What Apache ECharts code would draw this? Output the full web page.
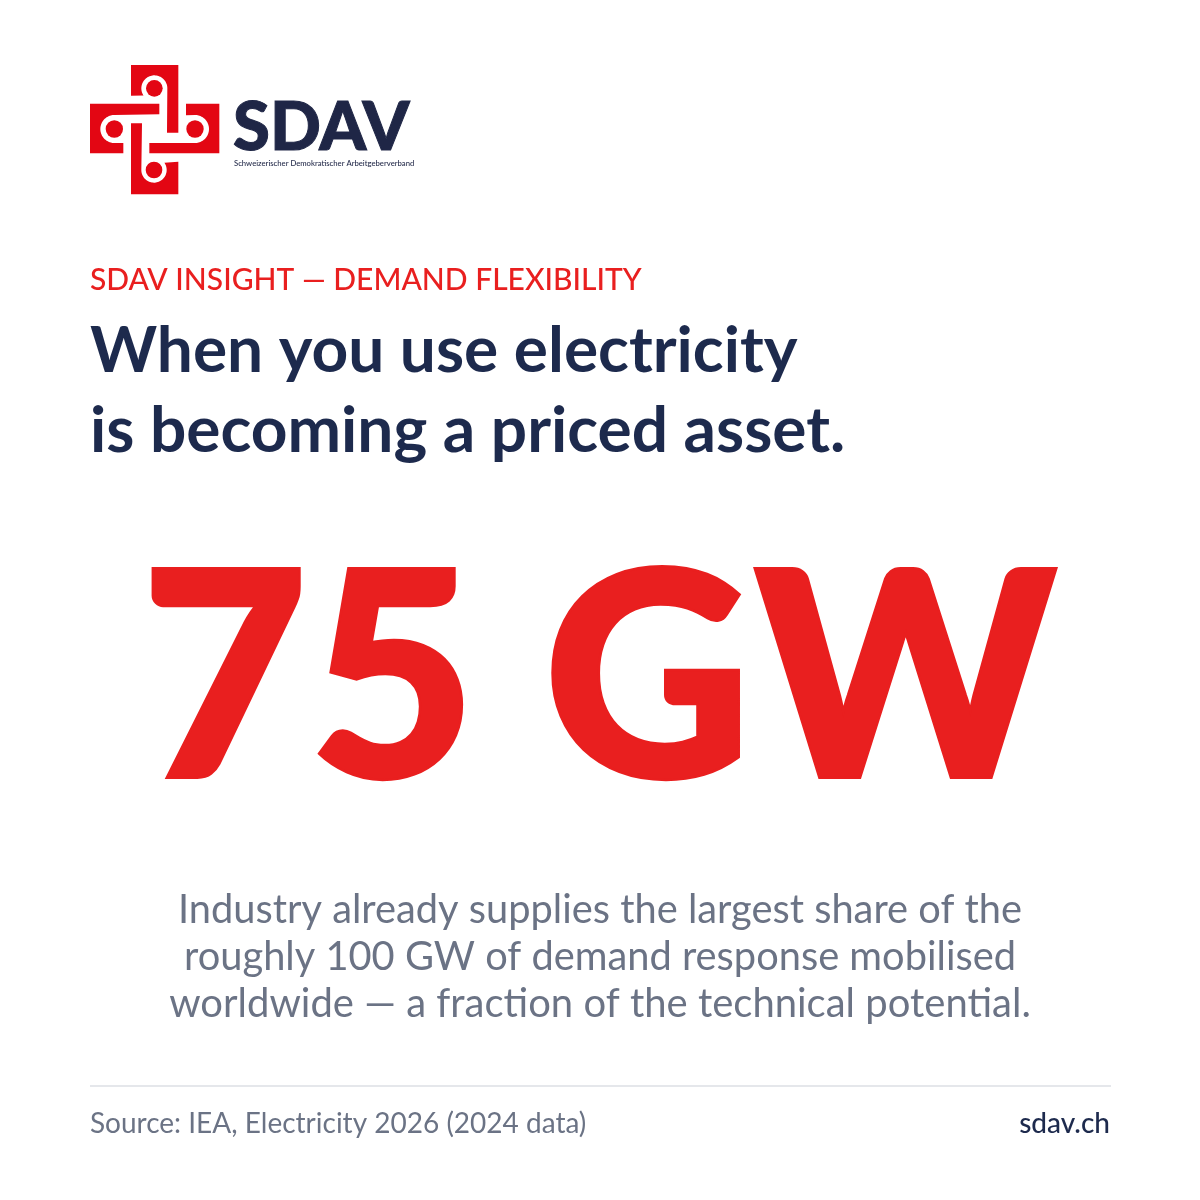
<!DOCTYPE html>
<html><head><meta charset="utf-8">
<style>html,body{margin:0;padding:0;background:#fff}#c{width:1200px;height:1200px}</style>
<script src="https://cdn.jsdelivr.net/npm/echarts@6/dist/echarts.min.js"></script>
</head><body><div id="c"></div>
<script>
const brandName = 'SDAV';
const brandLong = 'Schweizerischer Demokratischer Arbeitgeberverband';
const eyebrow = 'SDAV INSIGHT — DEMAND FLEXIBILITY';
const headline = ['When you use electricity', 'is becoming a priced asset.'];
const bigValue = 75;
const bigUnit = 'GW';
const bodyLines = ['Industry already supplies the largest share of the', 'roughly 100 GW of demand response mobilised', 'worldwide — a fraction of the technical potential.'];
const sourceText = 'Source: IEA, Electricity 2026 (2024 data)';
const siteText = 'sdav.ch';

const RED = '#e91f1f', NAVY = '#1d2a4d', BRAND = '#1f2646', GRAY = '#6b7385', LOGO = '#e30613';
const FF = 'Lato';
const chart = echarts.init(document.getElementById('c'), null, {renderer: 'canvas', width: 1200, height: 1200});

function txt(x, y, text, size, weight, fill, align, family, strokeW) {
  const style = {text, fontFamily: family || FF, fontSize: size, fontWeight: weight, fill, align: align || 'left', verticalAlign: 'middle'};
  if (strokeW) { style.stroke = fill; style.lineWidth = strokeW; style.lineJoin = 'miter'; }
  return {type: 'text', x, y, silent: true, style};
}
function arc(cx, cy, r, a0, a1) {
  const pts = [], n = 48;
  for (let i = 0; i <= n; i++) {
    const a = (a0 + (a1 - a0) * i / n) * Math.PI / 180;
    pts.push([cx + r * Math.cos(a), cy + r * Math.sin(a)]);
  }
  return pts;
}
const logoPieces = [
  [[153, 30], [295, 30], [295, 233], [261, 233], ...arc(223, 100, 39, 0, -214), [153, 122]],
  [[30, 146], [238, 146], [238, 178], ...arc(103, 222, 42, -90, -270), [130, 264], [130, 295], [30, 295]],
  [[318, 146], [318, 181], ...arc(345, 222, 42, -90, 90), [208, 264], [208, 295], [418, 295], [418, 146]],
  [[153, 205], [186, 205], ...arc(222, 345, 38, 180, -35), [295, 320], [295, 418], [153, 418]]
];
const logoDots = [[223, 100, 25], [103, 222, 26], [345, 222, 26], [222, 345, 25]];
const logo = {type: 'group', x: 80, y: 55, scaleX: 1 / 3, scaleY: 1 / 3, silent: true, children: [
  ...logoPieces.map(p => ({type: 'polygon', shape: {points: p}, style: {fill: LOGO}})),
  ...logoDots.map(d => ({type: 'circle', shape: {cx: d[0], cy: d[1], r: d[2]}, style: {fill: LOGO}}))
]};
const bigGlyphs = (bigValue + bigUnit).split('');
const bigCenters = [224.5, 392.5, 647.5, 905.5];

chart.setOption({
  animation: false,
  backgroundColor: '#fff',
  graphic: {elements: [
    logo,
    txt(233, 128.5, brandName, 67, 900, BRAND, 'left', 'Lato Black', 1),
    txt(234, 163.5, brandLong, 7.7, 500, BRAND),
    txt(90, 280, eyebrow, 30, 500, RED, 'left', 'Lato Medium'),
    txt(90, 351, headline[0], 64, 700, NAVY),
    txt(90, 431, headline[1], 64, 700, NAVY),
    ...bigGlyphs.map((g, i) => txt(bigCenters[i], 684.5, g, 285, 900, RED, 'center', 'Lato Black', 5)),
    txt(600, 910, bodyLines[0], 39.8, 400, GRAY, 'center'),
    txt(600, 957, bodyLines[1], 39.8, 400, GRAY, 'center'),
    txt(600, 1004, bodyLines[2], 40, 400, GRAY, 'center'),
    {type: 'line', silent: true, shape: {x1: 90, y1: 1086, x2: 1111, y2: 1086}, style: {stroke: '#e5e7eb', lineWidth: 2}},
    txt(90, 1124, sourceText, 28, 400, GRAY),
    txt(1110, 1124, siteText, 28, 500, NAVY, 'right', 'Lato Medium')
  ]}
});
</script></body></html>
